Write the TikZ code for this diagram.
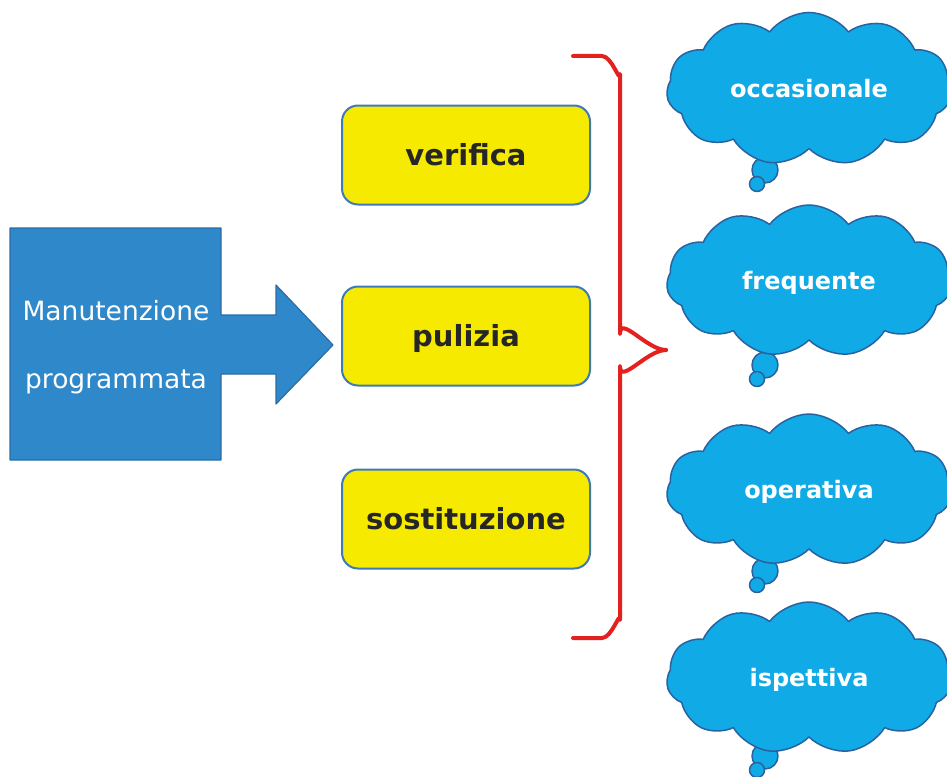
\documentclass[tikz,border=0pt]{standalone}
\usepackage{fontspec}
\setmainfont{DejaVu Sans}
\usepackage{tikz}
\usetikzlibrary{shapes.symbols}
\definecolor{boxblue}{HTML}{2E88C9}
\definecolor{boxedge}{HTML}{2A6DA6}
\definecolor{boxyellow}{HTML}{F6EB00}
\definecolor{yellowedge}{HTML}{3E7AB6}
\definecolor{cloudblue}{HTML}{10AAE6}
\definecolor{cloudedge}{HTML}{2A62A0}
\definecolor{bracered}{HTML}{E3211E}

\begin{document}
\begin{tikzpicture}[line cap=round,line join=round,x=1pt,y=-1pt]
\useasboundingbox (0,0) rectangle (947,776);
\clip (0,0) rectangle (947,776);
\tikzstyle{yellowbox}=[draw=yellowedge,fill=boxyellow,line width=2pt,rounded corners=16pt,minimum width=248pt,minimum height=99pt,text height=20pt,text depth=0pt,font=\fontsize{29}{32}\selectfont\bfseries,text=black!85]
\tikzstyle{thought}=[cloud,cloud puffs=11,cloud puff arc=105,aspect=1.85,draw=cloudedge,fill=cloudblue,line width=1.5pt,minimum width=285pt,minimum height=152pt,text height=17pt,text depth=0pt,font=\fontsize{24}{28}\selectfont\bfseries,text=white]
\tikzstyle{bubble}=[circle,draw=cloudedge,fill=cloudblue,line width=1.5pt,inner sep=0pt]
\tikzstyle{boxtext}=[anchor=base,text=white,font=\fontsize{26.5}{30}\selectfont]

% box + arrow
\draw [line width=1.2pt,draw=boxedge,fill=boxblue] (10,228) -- (221,228) -- (221,315) -- (276,315) -- (276,285) -- (333,345) -- (276,404) -- (276,374) -- (221,374) -- (221,460) -- (10,460) -- cycle;
\node[boxtext] (manut) at (116,320) {Manutenzione};
\node[boxtext] (progr) at (116,388) {programmata};

% yellow boxes
\node[yellowbox] (verifica) at (466,155) {verifica};
\node[yellowbox] (pulizia) at (466,336) {pulizia};
\node[yellowbox] (sostit) at (466,519) {sostituzione};

% brace
\coordinate (bracetop) at (573,56);
\coordinate (bracetip) at (666,350);
\coordinate (bracebot) at (573,638);
\draw [line width=4pt,color=bracered] (bracetop) -- (602,56) to[out=0,in=-90] (620,74) -- (620,334) to[out=90,in=180] (bracetip);
\draw [line width=4pt,color=bracered] (bracetip) to[out=180,in=-90] (620,366) -- (620,620) to[out=90,in=0] (602,638) -- (bracebot);

% clouds (tails first)
\node[bubble,minimum size=26pt] (occtail) at (765,170) {};
\node[bubble,minimum size=15pt] (occtip) at (757,184) {};
\node[thought] (occ) at (809,89) {occasionale};%top

\node[bubble,minimum size=26pt] (freqtail) at (765,365) {};
\node[bubble,minimum size=15pt] (freqtip) at (757,379) {};
\node[thought] (freq) at (809,281) {frequente};

\node[bubble,minimum size=26pt] (opertail) at (765,571) {};
\node[bubble,minimum size=15pt] (opertip) at (757,585) {};
\node[thought] (oper) at (809,490) {operativa};

\node[bubble,minimum size=26pt] (isptail) at (765,756) {};
\node[bubble,minimum size=15pt] (isptip) at (757,770) {};
\node[thought] (isp) at (809,678) {ispettiva};%bottom
\end{tikzpicture}
\end{document}
